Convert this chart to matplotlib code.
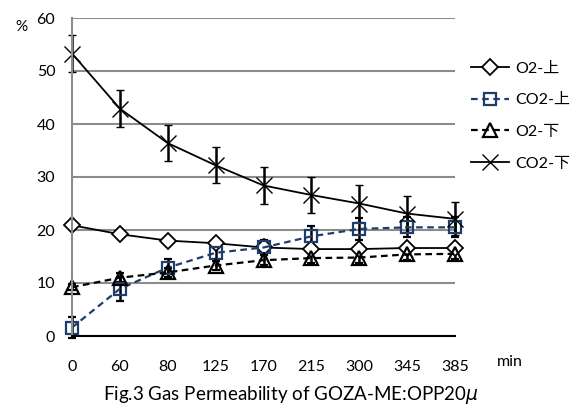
import matplotlib
matplotlib.use("Agg")
import matplotlib.pyplot as plt
from matplotlib.lines import Line2D

plt.rcParams['font.family'] = ['Lato', 'Noto Sans CJK JP', 'DejaVu Sans']

times = ["0", "60", "80", "125", "170", "215", "300", "345", "385"]

o2_up = [20.9, 19.2, 18.0, 17.5, 16.7, 16.4, 16.4, 16.6, 16.6]
o2_up_err = [0.5, 0.5, 0.5, 0.5, 0.5, 0.6, 0.6, 0.6, 0.6]

co2_up = [1.6, 8.9, 12.9, 15.7, 16.7, 18.8, 20.2, 20.5, 20.5]
co2_up_err = [1.9, 2.3, 1.7, 1.2, 1.5, 2.0, 2.1, 1.9, 1.9]

o2_down = [9.2, 11.0, 12.0, 13.3, 14.3, 14.7, 14.8, 15.4, 15.5]
o2_down_err = [0.6, 0.8, 0.9, 0.8, 0.9, 1.0, 1.0, 1.0, 1.0]

co2_down = [53.3, 42.9, 36.4, 32.2, 28.4, 26.6, 25.0, 23.1, 22.1]
co2_down_err = [3.5, 3.5, 3.4, 3.4, 3.4, 3.4, 3.4, 3.4, 3.1]

navy = "#1f3d6b"

fig = plt.figure(figsize=(5.83, 4.08), dpi=100)
ax = fig.add_axes([72/583, 72/408, 383/583, 318/408])

x = list(range(len(times)))
eb = dict(capsize=2.6, elinewidth=1.8, capthick=1.8, clip_on=False)

ax.errorbar(x, o2_up, yerr=o2_up_err, color="black", ecolor="black", lw=1.3,
            marker="D", ms=8, mfc="white", mec="black", mew=1.3, **eb)
ax.errorbar(x, co2_up, yerr=co2_up_err, color=navy, ecolor="black", lw=1.6,
            ls=(0, (3, 2)), marker="s", ms=8.5, mfc="none", mec=navy, mew=1.6, **eb)
ax.errorbar(x, o2_down, yerr=o2_down_err, color="black", ecolor="black", lw=1.6,
            ls=(0, (3, 2)), marker="^", ms=10, mfc="none", mec="black", mew=1.6, **eb)
ax.errorbar(x, co2_down, yerr=co2_down_err, color="black", ecolor="black", lw=1.3,
            marker="x", ms=11, mec="black", mew=1.0, **eb)

ax.set_xlim(0, len(times) - 1)
ax.set_ylim(0, 60)
ax.set_yticks(range(0, 61, 10))
ax.set_xticks(x)
ax.set_xticklabels(times)
ax.tick_params(axis="both", length=0, labelsize=11.5)
ax.tick_params(axis="x", pad=17)
ax.tick_params(axis="y", pad=12)
ax.grid(axis="y", color="#8c8c8c", lw=1.5)
ax.set_axisbelow(True)
for s in ["top", "right"]:
    ax.spines[s].set_visible(False)
ax.spines["left"].set_color("#8c8c8c")
ax.spines["left"].set_linewidth(1.5)
ax.spines["bottom"].set_color("black")
ax.spines["bottom"].set_linewidth(1.5)

fig.text(21/583, 1 - 27/408, "%", fontsize=11, ha="center", va="center")
fig.text(510/583, 1 - 362/408, "min", fontsize=11.5, ha="center", va="center")
fig.text(291/583, 1 - 395/408, "Fig.3 Gas Permeability of GOZA-ME:OPP20$\\mu$",
         fontsize=13.5, ha="center", va="center")

handles = [
    Line2D([], [], color="black", lw=1.3, marker="D", ms=8, mfc="white", mec="black", mew=1.3),
    Line2D([], [], color=navy, lw=1.6, ls=(0, (3, 2)), marker="s", ms=8.5, mfc="none", mec=navy, mew=1.6),
    Line2D([], [], color="black", lw=1.6, ls=(0, (3, 2)), marker="^", ms=10, mfc="none", mec="black", mew=1.6),
    Line2D([], [], color="black", lw=1.3, marker="x", ms=11, mec="black", mew=1.0),
]
labels = ["O2-上", "CO2-上", "O2-下", "CO2-下"]
fig.legend(handles, labels, loc="center left", bbox_to_anchor=(471/583, 1 - 116/408),
           frameon=False, fontsize=11.5, handlelength=2.4, handletextpad=0.35,
           labelspacing=1.1, borderaxespad=0, borderpad=0)

fig.savefig("out.png", dpi=100)
